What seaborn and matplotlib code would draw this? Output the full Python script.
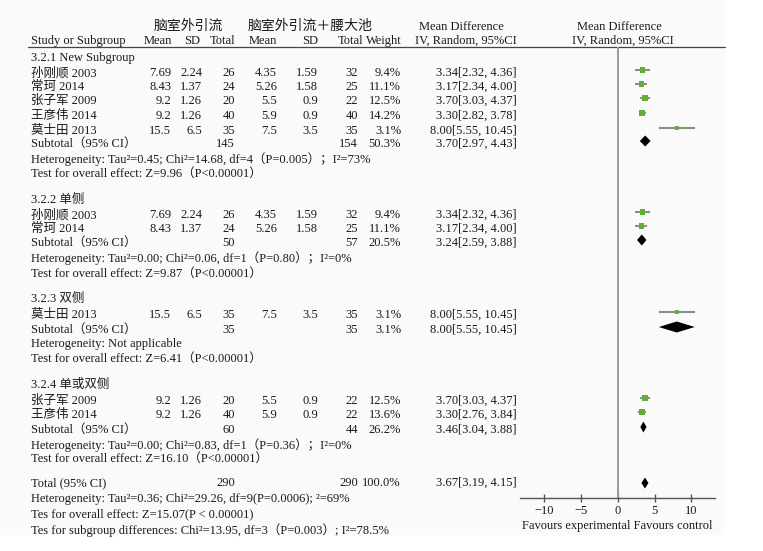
import matplotlib
matplotlib.use("Agg")
import matplotlib.pyplot as plt
import seaborn as sns
import pandas as pd

sns.set_style("white")
plt.rcParams["font.family"] = ["Liberation Serif", "Noto Sans CJK SC"]
plt.rcParams["axes.unicode_minus"] = True

# ======== DATA ========
groups = ["3.2.1 New Subgroup", "3.2.2 单侧", "3.2.3 双侧", "3.2.4 单或双侧"]

study_name = ["孙刚顺 2003", "常珂 2014", "张子军 2009", "王彦伟 2014", "莫士田 2013",
              "孙刚顺 2003", "常珂 2014",
              "莫士田 2013",
              "张子军 2009", "王彦伟 2014"]
exp_mean = [7.69, 8.43, 9.2, 9.2, 15.5, 7.69, 8.43, 15.5, 9.2, 9.2]
exp_sd = [2.24, 1.37, 1.26, 1.26, 6.5, 2.24, 1.37, 6.5, 1.26, 1.26]
exp_n = [26, 24, 20, 40, 35, 26, 24, 35, 20, 40]
ctl_mean = [4.35, 5.26, 5.5, 5.9, 7.5, 4.35, 5.26, 7.5, 5.5, 5.9]
ctl_sd = [1.59, 1.58, 0.9, 0.9, 3.5, 1.59, 1.58, 3.5, 0.9, 0.9]
ctl_n = [32, 25, 22, 40, 35, 32, 25, 35, 22, 22]
weight = [9.4, 11.1, 12.5, 14.2, 3.1, 9.4, 11.1, 3.1, 12.5, 13.6]
md = [3.34, 3.17, 3.70, 3.30, 8.00, 3.34, 3.17, 8.00, 3.70, 3.30]
md_lo = [2.32, 2.34, 3.03, 2.82, 5.55, 2.32, 2.34, 5.55, 3.03, 2.76]
md_hi = [4.36, 4.00, 4.37, 3.78, 10.45, 4.36, 4.00, 10.45, 4.37, 3.84]

sub_exp_n = [145, 50, 35, 60]
sub_ctl_n = [154, 57, 35, 44]
sub_weight = [50.3, 20.5, 3.1, 26.2]
sub_md = [3.70, 3.24, 8.00, 3.46]
sub_lo = [2.97, 2.59, 5.55, 3.04]
sub_hi = [4.43, 3.88, 10.45, 3.88]
sub_het = ["Heterogeneity: Tau²=0.45; Chi²=14.68, df=4（P=0.005）；I²=73%",
           "Heterogeneity: Tau²=0.00; Chi²=0.06, df=1（P=0.80）；I²=0%",
           "Heterogeneity: Not applicable",
           "Heterogeneity: Tau²=0.00; Chi²=0.83, df=1（P=0.36）；I²=0%"]
sub_test = ["Test for overall effect: Z=9.96（P<0.00001）",
            "Test for overall effect: Z=9.87（P<0.00001）",
            "Test for overall effect: Z=6.41（P<0.00001）",
            "Test for overall effect: Z=16.10（P<0.00001）"]

total_exp_n = 290
total_ctl_n = 290
total_weight = 100.0
total_md = 3.67
total_lo = 3.19
total_hi = 4.15
total_notes = ["Heterogeneity: Tau²=0.36; Chi²=29.26, df=9(P=0.0006); ²=69%",
               "Tes for overall effect: Z=15.07(P < 0.00001)",
               "Tes for subgroup differences: Chi²=13.95, df=3（P=0.003）; I²=78.5%"]

# ======== LAYOUT (pixel rows) ========
group_y = [58, 200, 299, 385]
study_y = [73, 87, 101, 116, 131, 215, 229, 315, 401, 415]
sub_y = [144, 243, 330, 430]
het_y = [159, 258, 344, 445]
test_y = [174, 274, 359, 459]
total_y = 483
total_note_y = [499, 514, 530]

FS = 9
TC = "#1a1a1a"

fig = plt.figure(figsize=(7.63, 5.51), dpi=100)
bg = fig.add_axes([0, 0, 1, 1])
bg.set_xlim(0, 763)
bg.set_ylim(551, 0)
bg.axis("off")
bg.add_patch(plt.Rectangle((0, 0), 723, 534, color="#fafafa", zorder=0))


def txt(x, y, s, ha="left", size=FS):
    bg.text(x, y, s, ha=ha, va="center", fontsize=size, color=TC)


# ======== HEADER ========
txt(188, 26, "脑室外引流", "center", 10)
txt(310, 26, "脑室外引流＋腰大池", "center", 10)
txt(461, 27, "Mean Difference", "center")
txt(619, 27, "Mean Difference", "center")
txt(31, 41, "Study or Subgroup")
for x, s in [(172, "Mean"), (200, "SD"), (235, "Total"), (277, "Mean"),
             (318, "SD"), (363, "Total"), (402, "Weight")]:
    txt(x, 41, s, "right")
txt(466, 41, "IV, Random, 95%CI", "center")
txt(623, 41, "IV, Random, 95%CI", "center")
bg.plot([28, 725], [47, 47], color="#444444", lw=0.9)

# ======== TABLE ========
cols = [171, 202, 235, 277, 318, 358]
for i, name in enumerate(study_name):
    y = study_y[i]
    txt(31, y, name)
    vals = [f"{exp_mean[i]:g}", f"{exp_sd[i]:g}", f"{exp_n[i]}",
            f"{ctl_mean[i]:g}", f"{ctl_sd[i]:g}", f"{ctl_n[i]}"]
    for x, s in zip(cols, vals):
        txt(x, y, s, "right")
    txt(401, y, f"{weight[i]:.1f}%", "right")
    txt(517, y, f"{md[i]:.2f}[{md_lo[i]:.2f}, {md_hi[i]:.2f}]", "right")

for g in range(len(groups)):
    txt(31, group_y[g], groups[g])
    txt(31, sub_y[g], "Subtotal（95% CI）")
    txt(235, sub_y[g], f"{sub_exp_n[g]}", "right")
    txt(358, sub_y[g], f"{sub_ctl_n[g]}", "right")
    txt(401, sub_y[g], f"{sub_weight[g]:.1f}%", "right")
    txt(517, sub_y[g], f"{sub_md[g]:.2f}[{sub_lo[g]:.2f}, {sub_hi[g]:.2f}]", "right")
    txt(31, het_y[g], sub_het[g])
    txt(31, test_y[g], sub_test[g])

txt(31, total_y, "Total (95% CI)")
txt(235, total_y, f"{total_exp_n}", "right")
txt(358, total_y, f"{total_ctl_n}", "right")
txt(401, total_y, f"{total_weight:.1f}%", "right")
txt(517, total_y, f"{total_md:.2f}[{total_lo:.2f}, {total_hi:.2f}]", "right")
for y, s in zip(total_note_y, total_notes):
    txt(31, y, s)

# ======== FOREST ========
ax = fig.add_axes([520 / 763, (551 - 498) / 551, 195 / 763, (498 - 47) / 551])
ax.set_facecolor("none")
ax.set_xlim(-13.33, 13.2)
ax.set_ylim(498, 47)

df = pd.DataFrame({"md": md, "lo": md_lo, "hi": md_hi, "w": weight,
                   "y": [v - 3 for v in study_y]})
ax.hlines(df["y"], df["lo"], df["hi"], color="#8c8c8c", lw=1.5, zorder=2)
sns.scatterplot(data=df, x="md", y="y", size="w", sizes=(7, 18), marker="s",
                color="#5fae3a", edgecolor="none", legend=False, ax=ax, zorder=3)

dia_md = sub_md + [total_md]
dia_lo = sub_lo + [total_lo]
dia_hi = sub_hi + [total_hi]
dia_y = [v - 3 for v in sub_y] + [total_y]
for m, lo, hi, y in zip(dia_md, dia_lo, dia_hi, dia_y):
    ax.fill([lo, m, hi, m], [y, y - 5.5, y, y + 5.5], color="black", lw=0, zorder=4)

ax.axvline(0, color="#9a9a9a", lw=1.4, zorder=1)
for s in ["top", "left", "right"]:
    ax.spines[s].set_visible(False)
ax.spines["bottom"].set_color("#555555")
ax.spines["bottom"].set_linewidth(1.0)
ax.set_yticks([])
ax.set_xticks([-10, -5, 0, 5, 10])
ax.tick_params(axis="x", direction="inout", length=6, width=1, color="#555555",
               labelsize=FS, labelcolor=TC, pad=2, bottom=True)
ax.set_xlabel("Favours experimental Favours control", fontsize=FS, color=TC, labelpad=2)
ax.set_ylabel("")

fig.savefig("out.png", dpi=100)
